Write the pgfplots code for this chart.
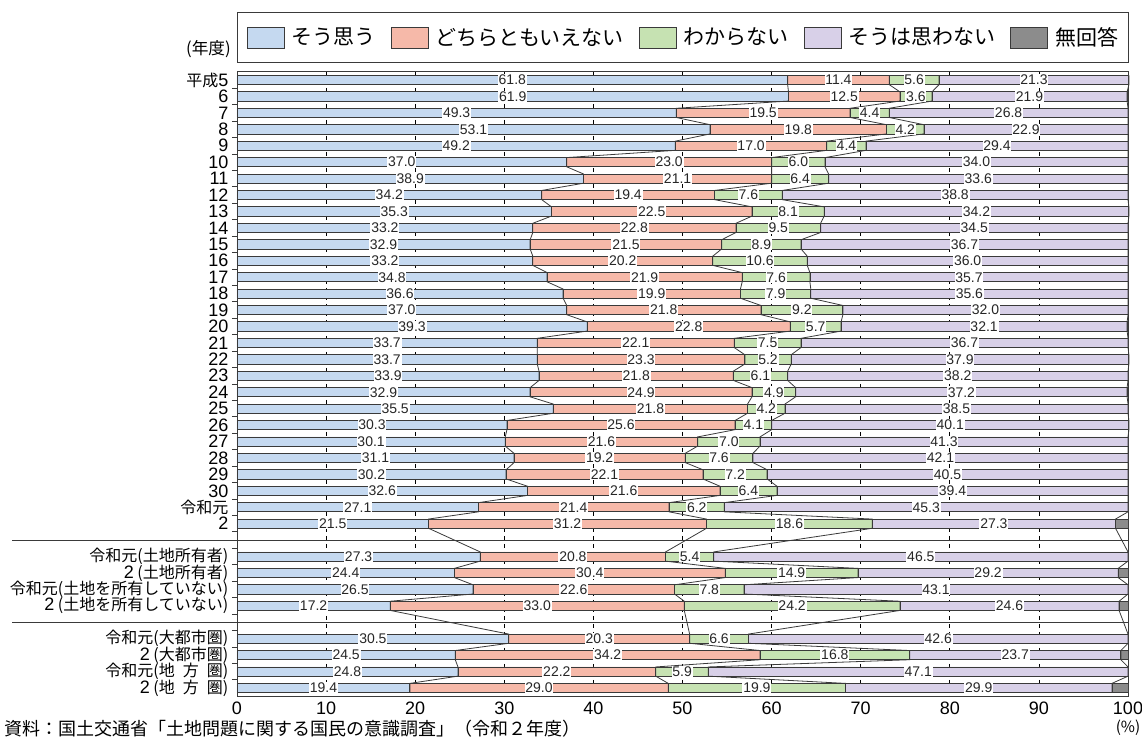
\documentclass[border=0pt]{standalone}
\usepackage{fontspec}
\setmainfont{Liberation Sans}
\newfontfamily\jp{Noto Sans CJK JP}
\usepackage{pgfplots}
\usepackage{pgfplotstable}
\pgfplotsset{compat=1.18}

\definecolor{cYes}{HTML}{C5D9F0}
\definecolor{cNeither}{HTML}{F6B9A9}
\definecolor{cDK}{HTML}{C6E2B2}
\definecolor{cNo}{HTML}{D8D0E8}
\definecolor{cNA}{HTML}{8C8C8C}
\definecolor{edge}{HTML}{3A3A3A}

% digits in the row labels are set a little larger than the kanji
\newcommand\dg[1]{{\rmfamily\fontsize{13.5}{15}\selectfont #1}}

% pos = row slot counted from the top; slots 28 and 33 stay empty between groups
% a: そう思う  b: どちらともいえない  c: わからない  d: そうは思わない  e: 無回答
\pgfplotstableread{
pos a b c d e
0 61.8 11.4 5.6 21.3 0
1 61.9 12.5 3.6 21.9 0
2 49.3 19.5 4.4 26.8 0
3 53.1 19.8 4.2 22.9 0
4 49.2 17.0 4.4 29.4 0
5 37.0 23.0 6.0 34.0 0
6 38.9 21.1 6.4 33.6 0
7 34.2 19.4 7.6 38.8 0
8 35.3 22.5 8.1 34.2 0
9 33.2 22.8 9.5 34.5 0
10 32.9 21.5 8.9 36.7 0
11 33.2 20.2 10.6 36.0 0
12 34.8 21.9 7.6 35.7 0
13 36.6 19.9 7.9 35.6 0
14 37.0 21.8 9.2 32.0 0
15 39.3 22.8 5.7 32.1 0
16 33.7 22.1 7.5 36.7 0
17 33.7 23.3 5.2 37.9 0
18 33.9 21.8 6.1 38.2 0
19 32.9 24.9 4.9 37.2 0
20 35.5 21.8 4.2 38.5 0
21 30.3 25.6 4.1 40.1 0
22 30.1 21.6 7.0 41.3 0
23 31.1 19.2 7.6 42.1 0
24 30.2 22.1 7.2 40.5 0
25 32.6 21.6 6.4 39.4 0
26 27.1 21.4 6.2 45.3 0
27 21.5 31.2 18.6 27.3 1.4
29 27.3 20.8 5.4 46.5 0
30 24.4 30.4 14.9 29.2 1.1
31 26.5 22.6 7.8 43.1 0
32 17.2 33.0 24.2 24.6 1.0
34 30.5 20.3 6.6 42.6 0
35 24.5 34.2 16.8 23.7 0.8
36 24.8 22.2 5.9 47.1 0
37 19.4 29.0 19.9 29.9 1.8
}\survey

% half bar thickness in row units
\def\hb{0.28}

% running boundaries of each stack, joined from the bottom of one bar
% to the top of the next
\def\linkA{}\def\linkB{}\def\linkC{}\def\linkD{}
\pgfplotsforeachungrouped \r in {0,...,35}{%
  \pgfplotstablegetelem{\r}{pos}\of\survey\let\vp\pgfplotsretval
  \pgfplotstablegetelem{\r}{a}\of\survey\let\va\pgfplotsretval
  \pgfplotstablegetelem{\r}{b}\of\survey\let\vb\pgfplotsretval
  \pgfplotstablegetelem{\r}{c}\of\survey\let\vc\pgfplotsretval
  \pgfplotstablegetelem{\r}{d}\of\survey\let\vd\pgfplotsretval
  \pgfmathsetmacro\cA{\va}%
  \pgfmathsetmacro\cB{\va+\vb}%
  \pgfmathsetmacro\cC{\va+\vb+\vc}%
  \pgfmathsetmacro\cD{\va+\vb+\vc+\vd}%
  \pgfmathsetmacro\yt{\vp-\hb}%
  \pgfmathsetmacro\yb{\vp+\hb}%
  \xdef\linkA{\linkA(\cA,\yt)(\cA,\yb)}%
  \xdef\linkB{\linkB(\cB,\yt)(\cB,\yb)}%
  \xdef\linkC{\linkC(\cC,\yt)(\cC,\yb)}%
  \xdef\linkD{\linkD(\cD,\yt)(\cD,\yb)}%
}

\pgfplotsset{
  panel/.style={
    scale only axis, width=668.25pt, height=468.3pt,
    at={(0pt,0pt)}, anchor=south west,
    xmin=0, xmax=100, ymin=-0.5, ymax=37.5,
    y dir=reverse, enlargelimits=false,
  },
  seg/.style={fill=#1, draw=edge, line width=0.6pt},
  link/.style={draw=edge, line width=0.6pt, mark=none},
  valuelabel/.style={
    draw=none, mark=none, point meta=explicit,
    nodes near coords={\pgfmathprintnumber[fixed,fixed zerofill,precision=1]{\pgfplotspointmeta}},
    every node near coord/.append style={anchor=center, fill=white,
      inner sep=0.6pt, text=black!85, font=\fontsize{10.5}{12}\selectfont},
  },
}

\begin{document}
\begin{tikzpicture}
\useasboundingbox (-177.75pt,-31.35pt) rectangle (678.75pt,522.15pt);

\begin{axis}[panel,
  xbar stacked, bar width=0.56,
  axis line style={line width=0.7pt, edge},
  xtick={0,10,...,100},
  xmajorgrids,
  major grid style={black, line width=0.5pt, dash pattern=on 3.5pt off 2.5pt},
  major tick length=0pt, minor tick length=3.75pt, tick align=outside,
  minor tick style={line width=0.6pt, edge},
  ytick pos=left, xtick pos=bottom,
  ytick={0,...,27,29,30,31,32,34,35,36,37},
  yticklabels={平成\dg{5},\dg{6},\dg{7},\dg{8},\dg{9},\dg{10},\dg{11},\dg{12},\dg{13},\dg{14},\dg{15},\dg{16},\dg{17},\dg{18},\dg{19},\dg{20},\dg{21},\dg{22},\dg{23},\dg{24},\dg{25},\dg{26},\dg{27},\dg{28},\dg{29},\dg{30},令和元,\dg{2},
    令和元(土地所有者),\dg{2} (土地所有者),令和元(土地を所有していない),\dg{2} (土地を所有していない),
    令和元(大都市圏),\dg{2} (大都市圏),令和元(地\hspace{0.5em}方\hspace{0.5em}圏),\dg{2} (地\hspace{0.5em}方\hspace{0.5em}圏)},
  minor ytick={0.5,1.5,...,36.5},
  xticklabel style={font=\fontsize{13.5}{15}\selectfont, inner sep=0.5pt, yshift=-3.5pt},
  yticklabel style={font=\jp\fontsize{12}{14}\selectfont, xshift=-3pt},
  /pgf/number format/assume math mode=true,
  legend columns=5,
  legend style={draw=none, fill=none, at={(0.5,1)}, anchor=center, yshift=25.75pt,
    font=\jp\fontsize{15.75}{18}\selectfont, inner sep=0pt, nodes={inner sep=0pt},
    /tikz/every odd column/.append style={column sep=5.25pt},
    /tikz/every even column/.append style={column sep=11.25pt}},
  legend image code/.code={\draw[#1, line width=0.6pt] (0pt,-7.875pt) rectangle (27.75pt,7.875pt);},
]
\addplot[seg=cYes]     table[x=a, y=pos]{\survey};
\addplot[seg=cNeither] table[x=b, y=pos]{\survey};
\addplot[seg=cDK]      table[x=c, y=pos]{\survey};
\addplot[seg=cNo]      table[x=d, y=pos]{\survey};
\addplot[seg=cNA]      table[x=e, y=pos]{\survey};
\legend{そう思う,どちらともいえない,わからない,そうは思わない,無回答}
\end{axis}

\begin{axis}[panel, hide axis, clip=false,
  /pgf/number format/assume math mode=true]
\edef\tmp{\noexpand\addplot[link] coordinates {\linkA};}\tmp
\edef\tmp{\noexpand\addplot[link] coordinates {\linkB};}\tmp
\edef\tmp{\noexpand\addplot[link] coordinates {\linkC};}\tmp
\edef\tmp{\noexpand\addplot[link] coordinates {\linkD};}\tmp
% group separators
\draw[line width=0.6pt, edge] (axis cs:-25.25,28) -- (axis cs:100,28);
\draw[line width=0.6pt, edge] (axis cs:-25.25,33) -- (axis cs:100,33);
\addplot[valuelabel] table[x expr=\thisrow{a}/2, y=pos, meta=a]{\survey};
\addplot[valuelabel] table[x expr=\thisrow{a}+\thisrow{b}/2, y=pos, meta=b]{\survey};
\addplot[valuelabel] table[x expr=\thisrow{a}+\thisrow{b}+\thisrow{c}/2, y=pos, meta=c]{\survey};
\addplot[valuelabel] table[x expr=\thisrow{a}+\thisrow{b}+\thisrow{c}+\thisrow{d}/2, y=pos, meta=d]{\survey};
\end{axis}

% legend frame
\draw[line width=0.7pt, edge] (0pt,475.3pt) rectangle (668.25pt,512.8pt);
\node[anchor=east, inner sep=0pt, font=\jp\fontsize{12.5}{14}\selectfont] at (-4.5pt,485.3pt) {(年度)};
\node[anchor=north, inner sep=0pt, font=\jp\fontsize{11.5}{13}\selectfont] at (668.25pt,-17.8pt) {(\%)};
\node[anchor=north west, inner sep=0pt, font=\jp\fontsize{13.5}{15}\selectfont] at (-174.75pt,-17.8pt)
  {資料：国土交通省「土地問題に関する国民の意識調査」（令和２年度）};
\end{tikzpicture}
\end{document}
